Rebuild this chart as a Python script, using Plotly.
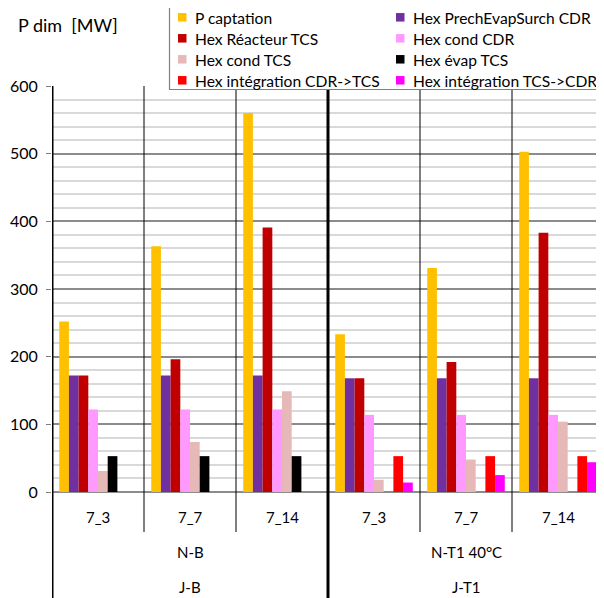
import plotly.graph_objects as go

# ---- data ----
sub_labels = ["7_3", "7_7", "7_14", "7_3", "7_7", "7_14"]
mid_labels = ["N-B", "N-T1 40°C"]
top_labels = ["J-B", "J-T1"]

series_names = [
    "P captation",
    "Hex PrechEvapSurch CDR",
    "Hex Réacteur TCS",
    "Hex cond CDR",
    "Hex cond TCS",
    "Hex évap TCS",
    "Hex intégration CDR->TCS",
    "Hex intégration TCS->CDR",
]
p_captation = [252, 363, 560, 233, 331, 503]
hex_prech = [172, 172, 172, 168, 168, 168]
hex_reacteur = [172, 196, 391, 168, 192, 383]
hex_cond_cdr = [122, 122, 122, 114, 114, 114]
hex_cond_tcs = [31, 74, 149, 18, 48, 104]
hex_evap_tcs = [53, 53, 53, None, None, None]
hex_integ_cdr_tcs = [None, None, None, 53, 53, 53]
hex_integ_tcs_cdr = [None, None, None, 14, 25, 44]

series_values = [p_captation, hex_prech, hex_reacteur, hex_cond_cdr,
                 hex_cond_tcs, hex_evap_tcs, hex_integ_cdr_tcs, hex_integ_tcs_cdr]
colors = ["#FFC000", "#7030A0", "#C00000", "#FF99FF",
          "#E6B9B8", "#000000", "#FF0000", "#FF00FF"]

FONT = "Lato"
x_idx = list(range(len(sub_labels)))

fig = go.Figure()
for name, vals, col in zip(series_names, series_values, colors):
    fig.add_trace(go.Bar(x=x_idx, y=vals, name=name, showlegend=False,
                         marker=dict(color=col, line=dict(width=0))))

# ---- layout geometry (window pixels; page body has an 8px margin) ----
OFF = 8
WIN_W, WIN_H = 604, 598
W, H = WIN_W - OFF, WIN_H - OFF
PL, PR, PT, PB = 52, 604, 86, 492          # plot area in window pixels
L, R, T, B = PL - OFF, WIN_W - PR, PT - OFF, WIN_H - PB
pw, ph = PR - PL, PB - PT

def px(wx):  # window x -> paper x
    return (wx - PL) / pw

def py(wy):  # window y -> paper y
    return (PB - wy) / ph

shapes = []
# thin separators between sub-categories
for xb in [0.5, 1.5, 3.5, 4.5]:
    shapes.append(dict(type="line", xref="x", yref="paper", x0=xb, x1=xb,
                       y0=1, y1=py(532), line=dict(color="black", width=1)))
# thick separators (axis and between major groups)
for xb in [-0.5, 2.5]:
    shapes.append(dict(type="line", xref="x", yref="paper", x0=xb, x1=xb,
                       y0=1, y1=py(605), line=dict(color="black", width=3)))

lab_font = dict(family=FONT, size=15, color="black")
annotations = []
for i, lab in enumerate(sub_labels):
    annotations.append(dict(x=i, y=py(516.5), xref="x", yref="paper", text=lab,
                            showarrow=False, xanchor="center", yanchor="middle", font=lab_font))
for j, lab in enumerate(mid_labels):
    annotations.append(dict(x=1 + 3 * j, y=py(552), xref="x", yref="paper", text=lab,
                            showarrow=False, xanchor="center", yanchor="middle", font=lab_font))
for j, lab in enumerate(top_labels):
    annotations.append(dict(x=1 + 3 * j, y=py(587), xref="x", yref="paper", text=lab,
                            showarrow=False, xanchor="center", yanchor="middle", font=lab_font))
annotations.append(dict(x=px(16), y=py(25), xref="paper", yref="paper",
                        text="P dim\u00a0 [MW]", showarrow=False,
                        xanchor="left", yanchor="middle",
                        font=dict(family=FONT, size=18, color="black")))

# ---- legend box (drawn) ----
shapes.append(dict(type="rect", xref="paper", yref="paper",
                   x0=px(169.5), x1=px(640), y0=py(7.5), y1=py(89.5),
                   fillcolor="white", line=dict(color="#808080", width=1.2), layer="above"))
col_x = [178, 396]
row_y = [17.3, 38.3, 59.3, 80.3]
for k, (name, col) in enumerate(zip(series_names, colors)):
    cx = col_x[k % 2]
    cy = row_y[k // 2]
    shapes.append(dict(type="rect", xref="paper", yref="paper",
                       x0=px(cx), x1=px(cx + 8.5), y0=py(cy - 4.25), y1=py(cy + 4.25),
                       fillcolor=col, line=dict(width=0), layer="above"))
    annotations.append(dict(x=px(cx + 14.5), y=py(cy + 0.5), xref="paper", yref="paper",
                            text=name, showarrow=False, xanchor="left", yanchor="middle",
                            font=dict(family=FONT, size=15.6, color="black")))

fig.update_layout(
    width=W, height=H,
    margin=dict(l=L, r=R, t=T, b=B, pad=0, autoexpand=False),
    paper_bgcolor="white", plot_bgcolor="white",
    barmode="group", bargap=0.157, bargroupgap=0,
    font=dict(family=FONT, size=15, color="black"),
    showlegend=False,
    xaxis=dict(range=[-0.5, 5.5], showticklabels=False, showgrid=False,
               zeroline=False, showline=False, ticks=""),
    yaxis=dict(range=[0, 600], dtick=100, showgrid=True, gridcolor="#8c8c8c", gridwidth=1.5,
               minor=dict(dtick=20, showgrid=True, gridcolor="#d9d9d9", gridwidth=2),
               zeroline=True, zerolinecolor="#8c8c8c", zerolinewidth=1.5,
               showline=False, ticks="outside", ticklen=5, tickcolor="#808080",
               ticklabelstandoff=5,
               tickfont=dict(family=FONT, size=16, color="black")),
    shapes=shapes, annotations=annotations,
)

fig.write_html("out.html")
